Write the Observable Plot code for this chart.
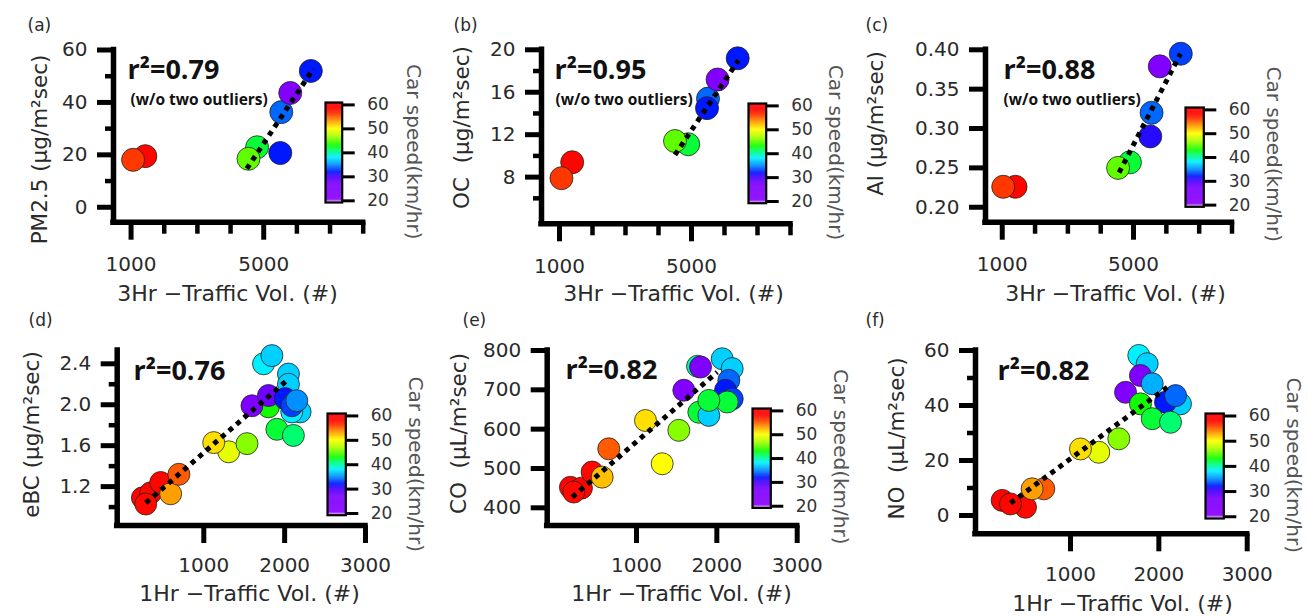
<!DOCTYPE html>
<html><head><meta charset="utf-8">
<script src="https://cdn.jsdelivr.net/npm/d3@7"></script>
<script src="https://cdn.jsdelivr.net/npm/@observablehq/plot@0.6"></script>
<style>
body{margin:0;background:#fff;}
#chart{position:relative;width:1307px;height:616px;overflow:hidden;background:#fff;}
#chart svg{position:absolute;}
</style></head><body><div id="chart"></div>
<script>
// ---------- data ----------
const speedTicks = [20, 30, 40, 50, 60];
const speedStops = [19.3, 20.5, 27, 30, 32, 35, 38, 41, 43, 47, 50, 53, 56, 58, 61];
const speedColors = ["#f0d0f8", "#8b00ff", "#7f00ff", "#4a00ff", "#0018ff", "#0090ff", "#00f0ff", "#00ff70", "#10ff00", "#b0ff00", "#ffff00", "#ffa000", "#ff3800", "#ff0800", "#ff0000"];

const xMajor3h = [1000, 5000];
const xMinor3h = [2000, 3000, 4000, 6000, 7000, 8000];
const xTicks1h = [1000, 2000, 3000];

// (a) PM2.5
const trafficA = [1430, 1060, 4800, 4540, 5500, 5530, 5800, 6420];
const pm25 = [19.5, 18.1, 22.9, 18.5, 20.7, 36.3, 43.6, 52.0];
const speedA = [59, 56, 42, 45, 32, 34, 26, 32];
const fitTrafficA = [4490, 6500];
const fitPm25 = [14.7, 52.9];
const pm25Major = [0, 20, 40, 60];
const pm25Minor = [10, 30, 50];

// (b) OC
const trafficB = [1385, 1060, 4900, 4500, 5500, 5470, 5790, 6400];
const oc = [9.4, 7.9, 11.1, 11.4, 15.4, 14.5, 17.2, 19.2];
const speedB = [59, 56, 42, 45, 34, 32, 26, 32];
const fitTrafficB = [4500, 6420];
const fitOc = [10.1, 19.0];
const ocMajor = [8, 12, 16, 20];
const ocMinor = [6, 10, 14, 18];

// (c) Al
const trafficC = [1405, 1030, 4890, 4530, 5510, 5550, 5800, 6440];
const al = [0.226, 0.226, 0.257, 0.250, 0.290, 0.320, 0.379, 0.395];
const speedC = [59, 56, 42, 45, 31, 34, 26, 33];
const fitTrafficC = [4560, 6430];
const fitAl = [0.244, 0.395];
const alMajor = [0.20, 0.25, 0.30, 0.35, 0.40];

// (d) eBC
const trafficD = [241, 344, 282, 467, 590, 692, 1308, 1123, 1534, 1739, 1842, 2047, 2047, 1800, 2191, 2088, 1596, 1800, 2006, 2088, 2150, 1904, 2108];
const ebc = [1.09, 1.14, 1.03, 1.24, 1.13, 1.32, 1.54, 1.63, 1.62, 2.40, 2.48, 2.30, 2.20, 1.98, 1.93, 1.93, 1.99, 2.09, 2.06, 1.99, 2.04, 1.76, 1.70];
const speedD = [60, 59, 58, 59, 53, 55, 49, 51, 46, 38, 37, 37, 37, 43, 37, 38, 27, 28, 32, 33, 35, 42, 41];
const fitTrafficD = [283, 2047];
const fitEbc = [1.04, 2.25];
const ebcMajor = [1.2, 1.6, 2.0, 2.4];
const ebcMinor = [1.0, 1.4, 1.8, 2.2];

// (e) CO
const trafficE = [178, 315, 219, 448, 573, 655, 1112, 1320, 1527, 1589, 1760, 1797, 2067, 2191, 2149, 2108, 2191, 1776, 1900, 2129, 1900];
const co = [452, 450, 440, 491, 478, 550, 622, 512, 597, 699, 760, 758, 779, 754, 724, 699, 677, 643, 635, 669, 673];
const speedE = [60, 59, 58, 58, 52, 55, 51, 50, 46, 26, 40, 27, 37, 37, 34, 32, 33, 42, 37, 42, 42];
const fitTrafficE = [200, 2005];
const fitCo = [427, 745];
const coMajor = [400, 500, 600, 700, 800];

// (f) NO
const trafficF = [227, 491, 321, 698, 566, 1320, 1113, 1547, 1773, 1868, 1792, 1623, 1925, 1792, 2245, 2075, 2189, 1925, 2132];
const no = [5.5, 3.0, 4.2, 9.7, 9.7, 23.0, 24.2, 27.9, 58.2, 55.2, 50.9, 44.8, 47.9, 40.6, 40.6, 41.2, 43.6, 35.2, 33.9];
const speedF = [60, 58, 59, 55, 53, 49, 51, 46, 38, 37, 27, 26, 36, 43, 37, 32, 34, 42, 41];
const fitTrafficF = [321, 2110];
const fitNo = [4.5, 47];
const noMajor = [0, 20, 40, 60];
const noMinor = [10, 30, 50];

// ---------- layout ----------
const colorOpt = {type: "linear", domain: speedStops, range: speedColors, interpolate: "rgb"};
const FONT = "DejaVu Sans";
const TXT = "#2a2a2a";
const svgStyle = {background: "transparent", overflow: "visible", maxWidth: "none", fontFamily: FONT};
const root = document.getElementById("chart");

function table(xs, ys, ss) { return xs.map((x, i) => ({x, y: ys[i], s: ss ? ss[i] : null})); }

const panels = [
  {letter: "(a)", left: 0, top: 0, width: 435, height: 305, fl: 113, fr: 362.7, ft: 49.5, fb: 221.7,
   xDomain: [470, 8000], yDomain: [-5.7, 60], xMajor: xMajor3h, xMinor: xMinor3h, yMajor: pm25Major, yMinor: pm25Minor, yFmt: d3.format("d"),
   pts: table(trafficA, pm25, speedA), fit: table(fitTrafficA, fitPm25), r: 11.5,
   ylabel: "PM2.5 (µg/m²sec)", xlabel: "3Hr −Traffic Vol. (#)", r2: "r²=0.79", note: true,
   letterPos: [27, 25], r2Pos: [127, 78.5], notePos: [130, 100], ylabPos: [40, 149], xlabPos: [227, 293], xPad: 17,
   cb: {L: 325, R: 341.7, T: 101.7, B: 201.7, tx: 413, ty: 151}},
  {letter: "(b)", left: 435, top: 0, width: 425, height: 305, fl: 541, fr: 790, ft: 49.3, fb: 223.3,
   xDomain: [455, 8000], yDomain: [3.6, 20], xMajor: xMajor3h, xMinor: xMinor3h, yMajor: ocMajor, yMinor: ocMinor, yFmt: d3.format("d"),
   pts: table(trafficB, oc, speedB), fit: table(fitTrafficB, fitOc), r: 11.5,
   ylabel: "OC  (µg/m²sec)", xlabel: "3Hr −Traffic Vol. (#)", r2: "r²=0.95", note: true,
   letterPos: [453, 25], r2Pos: [554, 78.5], notePos: [555, 100], ylabPos: [462, 127], xlabPos: [673, 293], xPad: 17,
   cb: {L: 748.3, R: 766, T: 103, B: 202.7, tx: 835, ty: 152}},
  {letter: "(c)", left: 860, top: 0, width: 447, height: 305, fl: 985, fr: 1231.5, ft: 49.3, fb: 221.7,
   xDomain: [490, 8000], yDomain: [0.181, 0.40], xMajor: xMajor3h, xMinor: xMinor3h, yMajor: alMajor, yMinor: [], yFmt: d3.format(".2f"),
   pts: table(trafficC, al, speedC), fit: table(fitTrafficC, fitAl), r: 11.5,
   ylabel: "Al (µg/m²sec)", xlabel: "3Hr −Traffic Vol. (#)", r2: "r²=0.88", note: true,
   letterPos: [865, 25], r2Pos: [1003, 78.5], notePos: [1003, 100], ylabPos: [876, 123], xlabPos: [1115, 293], xPad: 17,
   cb: {L: 1185, R: 1203.3, T: 106.7, B: 206, tx: 1273, ty: 153.5}},
  {letter: "(d)", left: 0, top: 305, width: 435, height: 311, fl: 116.7, fr: 365, ft: 350, fb: 525,
   xDomain: [-71, 3000], yDomain: [0.82, 2.53], xMajor: xTicks1h, xMinor: [], yMajor: ebcMajor, yMinor: ebcMinor, yFmt: d3.format(".1f"),
   pts: table(trafficD, ebc, speedD), fit: table(fitTrafficD, fitEbc), r: 11,
   ylabel: "eBC (µg/m²sec)", xlabel: "1Hr −Traffic Vol. (#)", r2: "r²=0.76", note: false,
   letterPos: [28, 320], r2Pos: [133, 379], ylabPos: [32, 434], xlabPos: [249, 593], xPad: 14.5,
   cb: {L: 326.7, R: 345, T: 413.3, B: 515, tx: 415, ty: 464}},
  {letter: "(e)", left: 435, top: 305, width: 425, height: 311, fl: 546.7, fr: 796.7, ft: 350, fb: 525,
   xDomain: [-111, 3000], yDomain: [355, 800], xMajor: xTicks1h, xMinor: [], yMajor: coMajor, yMinor: [], yFmt: d3.format("d"),
   pts: table(trafficE, co, speedE), fit: table(fitTrafficE, fitCo), r: 11,
   ylabel: "CO  (µL/m²sec)", xlabel: "1Hr −Traffic Vol. (#)", r2: "r²=0.82", note: false,
   letterPos: [462, 320], r2Pos: [565, 378.5], ylabPos: [459, 433], xlabPos: [681, 593], xPad: 14.5,
   cb: {L: 751.7, R: 770, T: 408.3, B: 507.7, tx: 840, ty: 456.5}},
  {letter: "(f)", left: 860, top: 305, width: 447, height: 311, fl: 975, fr: 1246.7, ft: 350, fb: 533.3,
   xDomain: [-75, 3000], yDomain: [-6.65, 60], xMajor: xTicks1h, xMinor: [], yMajor: noMajor, yMinor: noMinor, yFmt: d3.format("d"),
   pts: table(trafficF, no, speedF), fit: table(fitTrafficF, fitNo), r: 11,
   ylabel: "NO  (µL/m²sec)", xlabel: "1Hr −Traffic Vol. (#)", r2: "r²=0.82", note: false,
   letterPos: [865, 320], r2Pos: [997, 379], ylabPos: [897, 438], xlabPos: [1122, 603], xPad: 14.5,
   cb: {L: 1205, R: 1223.3, T: 413.3, B: 518.3, tx: 1293, ty: 465}}
];

function mount(el, left, top) {
  el.style.left = left + "px";
  el.style.top = top + "px";
  root.appendChild(el);
}

function drawPanel(p) {
  const place = (x, y) => ({frameAnchor: "top-left", dx: x - p.fl, dy: y - p.ft});
  const marks = [
    Plot.ruleX([p.xDomain[0]], {stroke: "black", strokeWidth: 5.5, strokeLinecap: "square"}),
    Plot.ruleY([p.yDomain[0]], {stroke: "black", strokeWidth: 5.5, strokeLinecap: "square"}),
    Plot.axisY(p.yMajor, {tickSize: 16, tickPadding: 10, strokeWidth: 5, stroke: "black", fill: TXT, fontSize: 20, tickFormat: p.yFmt, label: null}),
    Plot.axisX(p.xMajor, {tickSize: 18, tickPadding: p.xPad, strokeWidth: 5, stroke: "black", fill: TXT, fontSize: 20, tickFormat: d3.format("d"), label: null})
  ];
  if (p.yMinor.length) marks.push(Plot.axisY(p.yMinor, {tickSize: 8, strokeWidth: 4.5, stroke: "black", tickFormat: () => "", label: null}));
  if (p.xMinor.length) marks.push(Plot.axisX(p.xMinor, {tickSize: 12, strokeWidth: 4.5, stroke: "black", tickFormat: () => "", label: null}));
  marks.push(
    Plot.dot(p.pts, {x: "x", y: "y", fill: "s", r: p.r, stroke: "#222", strokeWidth: 0.8}),
    Plot.line(p.fit, {x: "x", y: "y", stroke: "black", strokeWidth: 5, strokeDasharray: "5,5", strokeLinecap: "butt"}),
    Plot.text([p.letter], {text: d => d, ...place(...p.letterPos), textAnchor: "start", lineAnchor: "middle", fontSize: 17, fill: TXT}),
    Plot.text([p.r2], {text: d => d, ...place(...p.r2Pos), textAnchor: "start", lineAnchor: "bottom", fontSize: 27, fontWeight: "bold", fontFamily: "Open Sans", fill: "#111"}),
    Plot.text([p.ylabel], {text: d => d, ...place(...p.ylabPos), rotate: -90, textAnchor: "middle", lineAnchor: "middle", fontSize: 21.5, fill: TXT}),
    Plot.text([p.xlabel], {text: d => d, ...place(...p.xlabPos), textAnchor: "middle", lineAnchor: "middle", fontSize: 22, fill: TXT})
  );
  if (p.note) marks.push(Plot.text(["(w/o two outliers)"], {text: d => d, ...place(...p.notePos), textAnchor: "start", lineAnchor: "middle", fontSize: 15.5, fontWeight: "bold", fontFamily: "Open Sans", fill: "#111"}));

  const chart = Plot.plot({
    width: p.width, height: p.height,
    marginLeft: p.fl - p.left, marginRight: p.left + p.width - p.fr,
    marginTop: p.ft - p.top, marginBottom: p.top + p.height - p.fb,
    x: {domain: p.xDomain}, y: {domain: p.yDomain},
    color: colorOpt,
    style: svgStyle,
    marks
  });
  mount(chart, p.left, p.top);
}

function drawColorbar(cb) {
  const barW = cb.R - cb.L, barH = cb.B - cb.T;
  const width = Math.ceil(cb.tx - cb.L + 13);
  const height = Math.ceil(barH + 40);
  const step = 0.2;
  const ramp = d3.range(19.3, 61, step);
  const chart = Plot.plot({
    width, height,
    marginLeft: 0, marginRight: width - barW, marginTop: 20, marginBottom: height - 20 - barH,
    x: {domain: [0, 1], axis: null},
    y: {domain: [19.3, 61]},
    color: colorOpt,
    style: svgStyle,
    marks: [
      Plot.rect(ramp, {x1: 0, x2: 1, y1: d => d, y2: d => Math.min(61, d + step * 1.6), fill: d => d + step / 2}),
      Plot.frame({stroke: "black", strokeWidth: 2.2}),
      Plot.axisY(speedTicks, {anchor: "right", tickSize: 12, tickPadding: 13, strokeWidth: 3, stroke: "black", fill: "#333", fontSize: 17, tickFormat: d3.format("d"), label: null}),
      Plot.text(["Car speed(km/hr)"], {text: d => d, frameAnchor: "top-left", dx: cb.tx - cb.L, dy: cb.ty - cb.T, rotate: 90, textAnchor: "middle", lineAnchor: "middle", fontSize: 20, fill: "#555"})
    ]
  });
  mount(chart, cb.L, cb.T - 20);
}

panels.forEach(p => { drawPanel(p); });
panels.forEach(p => { drawColorbar(p.cb); });
</script></body></html>
